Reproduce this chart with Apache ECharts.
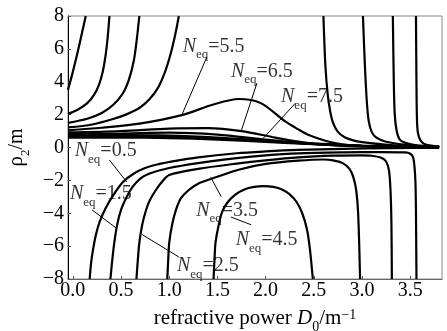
<!DOCTYPE html>
<html>
<head>
<meta charset="utf-8">
<script src="https://cdn.jsdelivr.net/npm/echarts@6/dist/echarts.min.js"></script>
<style>
  html, body { margin: 0; padding: 0; background: #fff; }
  #chart { width: 447px; height: 331px; }
</style>
</head>
<body>
<div id="chart"></div>
<script>
// ticks
var xTicks = [0, 0.5, 1.0, 1.5, 2.0, 2.5, 3.0, 3.5];

// curves [D0, rho2]
// left branches going up to +8
var curveA = [[-0.05, 3.5], [0, 4.6], [0.05, 5.8], [0.1, 7.1], [0.134, 8]];
var curveB = [[-0.05, 2.05], [0.05, 2.3], [0.15, 2.7], [0.22, 3.2], [0.27, 3.8], [0.31, 4.6], [0.34, 5.6], [0.36, 6.6], [0.38, 8]];
var curveC = [[-0.05, 1.5], [0.15, 1.75], [0.3, 2.1], [0.42, 2.6], [0.52, 3.3], [0.58, 4.1], [0.63, 5.2], [0.66, 6.4], [0.69, 8]];
var curveD = [[-0.05, 1.22], [0.2, 1.4], [0.4, 1.7], [0.55, 2.0], [0.69, 2.4], [0.79, 2.9], [0.88, 3.6], [0.95, 4.5], [1.01, 5.6], [1.06, 6.8], [1.1, 8]];
// right branches coming down from +8
var curveAR = [[3.56, 8], [3.565, 4], [3.57, 1.8], [3.58, 0.9], [3.61, 0.4], [3.66, 0.18], [3.8, 0.05]];
var curveBR = [[3.32, 8], [3.33, 4], [3.34, 2.0], [3.36, 1.0], [3.39, 0.5], [3.45, 0.28], [3.55, 0.15], [3.8, 0.05]];
var curveCR = [[3.01, 8], [3.03, 5], [3.05, 2.8], [3.07, 1.6], [3.1, 0.95], [3.15, 0.6], [3.25, 0.35], [3.5, 0.13], [3.8, 0.04]];
var curveDR = [[2.6, 8], [2.62, 5], [2.645, 3.2], [2.67, 2.2], [2.7, 1.5], [2.75, 0.95], [2.82, 0.62], [2.9, 0.45], [3.0, 0.33], [3.3, 0.15], [3.8, 0.04]];
// N_eq = 5.5, 6.5, 7.5 and the bundle
var n55 = [[-0.05, 1.05], [0.3, 1.2], [0.69, 1.45], [1.13, 1.97], [1.45, 2.6], [1.72, 2.95], [1.95, 2.7], [2.2, 1.6], [2.34, 1.1], [2.44, 0.78], [2.68, 0.32], [2.93, 0.12], [3.3, 0.05], [3.8, 0.02]];
var n65 = [[-0.05, 0.92], [0.5, 1.0], [1.0, 1.15], [1.4, 1.18], [1.75, 1.0], [2.1, 0.6], [2.4, 0.3], [2.8, 0.12], [3.3, 0.05], [3.8, 0.02]];
var n75 = [[-0.05, 0.82], [0.5, 0.85], [1.0, 0.9], [1.5, 0.78], [1.96, 0.5], [2.3, 0.3], [2.7, 0.15], [3.2, 0.06], [3.8, 0.02]];
var bundle1 = [[-0.05, 0.74], [0.5, 0.75], [1.0, 0.72], [1.5, 0.6], [2.0, 0.42], [2.5, 0.25], [3.0, 0.12], [3.8, 0.03]];
var bundle2 = [[-0.05, 0.67], [0.5, 0.67], [1.0, 0.64], [1.5, 0.54], [2.0, 0.38], [2.5, 0.22], [3.0, 0.1], [3.8, 0.02]];
var bundle3 = [[-0.05, 0.6], [0.5, 0.6], [1.0, 0.57], [1.5, 0.48], [2.0, 0.34], [2.5, 0.2], [3.0, 0.09], [3.8, 0.02]];
// N_eq = 0.5 ... 4.5 (below zero)
var n05 = [[0.175, -8], [0.19, -7], [0.21, -6.2], [0.24, -5.3], [0.28, -4.5], [0.34, -3.7], [0.42, -2.9], [0.52, -2.1], [0.63, -1.6], [0.75, -1.25], [0.9, -1.0], [1.0, -0.88], [1.3, -0.6], [1.7, -0.35], [2.0, -0.24], [2.34, -0.15], [2.8, -0.08], [3.3, -0.04], [3.8, -0.02]];
var n15 = [[0.39, -8], [0.41, -6.8], [0.43, -5.8], [0.46, -4.7], [0.5, -3.8], [0.56, -3.0], [0.62, -2.4], [0.7, -1.9], [0.79, -1.6], [1.0, -1.25], [1.3, -0.95], [1.7, -0.65], [2.0, -0.48], [2.34, -0.36], [2.8, -0.3], [3.2, -0.28], [3.45, -0.3], [3.5, -0.38], [3.53, -0.6], [3.545, -1.2], [3.555, -2.2], [3.56, -4], [3.565, -8]];
var n25 = [[0.66, -8], [0.675, -6.8], [0.69, -5.8], [0.72, -4.7], [0.76, -3.8], [0.8, -3.2], [0.86, -2.6], [0.93, -2.05], [1.0, -1.67], [1.3, -1.3], [1.7, -0.98], [2.0, -0.78], [2.34, -0.6], [2.7, -0.5], [3.0, -0.48], [3.1, -0.5], [3.2, -0.62], [3.25, -0.85], [3.28, -1.4], [3.295, -2.5], [3.305, -4.5], [3.31, -8]];
var n35 = [[0.98, -8], [0.99, -6.8], [1.0, -5.8], [1.03, -4.7], [1.07, -3.8], [1.12, -3.1], [1.2, -2.6], [1.3, -2.2], [1.44, -1.9], [1.72, -1.35], [2.0, -1.0], [2.34, -0.8], [2.6, -0.73], [2.7, -0.78], [2.8, -0.95], [2.87, -1.3], [2.91, -1.8], [2.94, -2.6], [2.96, -4], [2.98, -8]];
var n45 = [[1.46, -8], [1.47, -6.8], [1.48, -5.8], [1.51, -4.8], [1.55, -3.9], [1.61, -3.3], [1.69, -2.85], [1.78, -2.55], [1.88, -2.4], [1.98, -2.35], [2.08, -2.4], [2.17, -2.55], [2.25, -2.85], [2.32, -3.3], [2.38, -4.0], [2.43, -5.0], [2.46, -6.2], [2.49, -8]];

// labels
var labelNames = ['5.5', '6.5', '7.5', '0.5', '1.5', '2.5', '3.5', '4.5'];
var labelPos = [[1.14, 6.14], [1.64, 4.62], [2.16, 3.08], [0.02, -0.22], [-0.03, -2.82], [1.08, -7.22], [1.28, -3.82], [1.69, -5.62]];
// leader lines
var leaders = [
  [[1.39, 5.5], [1.13, 1.97]],
  [[1.91, 3.92], [1.75, 1.06]],
  [[2.31, 2.7], [1.96, 0.46]],
  [[0.38, -0.76], [0.56, -2.1]],
  [[0.2, -3.8], [0.45, -4.9]],
  [[0.72, -5.3], [1.1, -6.66]],
  [[1.43, -1.8], [1.54, -3.0]],
  [[1.64, -4.23], [1.85, -4.7]]
];

var curves = [curveA, curveB, curveC, curveD, curveAR, curveBR, curveCR, curveDR,
  n55, n65, n75, bundle1, bundle2, bundle3, n05, n15, n25, n35, n45];

var serif = 'Liberation Serif';
var rich = {
  n: { fontFamily: serif, fontStyle: 'italic', fontSize: 20, color: '#000', lineHeight: 20 },
  s: { fontFamily: serif, fontSize: 13, color: '#000', lineHeight: 13, padding: [12, 0, 0, 0], verticalAlign: 'top' },
  v: { fontFamily: serif, fontSize: 20, color: '#000', lineHeight: 20 }
};

var series = [];
curves.forEach(function (c) {
  series.push({
    type: 'line',
    data: c,
    showSymbol: false,
    smooth: 0.3,
    lineStyle: { color: '#000', width: 2.2 },
    silent: true
  });
});
leaders.forEach(function (l) {
  series.push({
    type: 'line',
    data: l,
    showSymbol: false,
    lineStyle: { color: '#000', width: 1 },
    silent: true
  });
});
series.push({
  type: 'scatter',
  symbolSize: 0,
  data: labelPos.map(function (p, i) { return [p[0], p[1], labelNames[i]]; }),
  label: {
    show: true,
    position: 'right',
    distance: 0,
    formatter: function (p) { return '{n|N}{s|eq}{v|=' + p.value[2] + '}'; },
    rich: rich
  },
  silent: true
});

var myChart = echarts.init(document.getElementById('chart'));
var option = {
  animation: false,
  grid: {
    left: 68, right: 5, top: 16, bottom: 52,
    outerBoundsMode: 'none',
    show: true, borderColor: '#888', borderWidth: 1
  },
  xAxis: {
    type: 'value',
    min: -0.05,
    max: 3.83,
    name: '{t|refractive power }{i|D}{sb|0}{t|/m}{sp|−1}',
    nameLocation: 'middle',
    nameGap: 29,
    nameTextStyle: {
      rich: {
        t: { fontFamily: serif, fontSize: 21, color: '#000', lineHeight: 20 },
        i: { fontFamily: serif, fontStyle: 'italic', fontSize: 21, color: '#000', lineHeight: 20 },
        sb: { fontFamily: serif, fontSize: 14, color: '#000', lineHeight: 13, padding: [12, 0, 0, 0], verticalAlign: 'top' },
        sp: { fontFamily: serif, fontSize: 14, color: '#000', lineHeight: 13, padding: [0, 0, 10, 0], verticalAlign: 'top' }
      }
    },
    splitLine: { show: false },
    axisLine: { onZero: false, lineStyle: { color: '#666', width: 1 } },
    axisTick: { inside: true, length: 3, lineStyle: { color: '#555' }, customValues: xTicks },
    axisLabel: {
      customValues: xTicks,
      fontFamily: serif, fontSize: 20, color: '#000', margin: 2,
      formatter: function (v) { return v.toFixed(1); }
    }
  },
  yAxis: {
    type: 'value',
    min: -8,
    max: 8,
    interval: 2,
    name: '{r|ρ}{sb|2}{t|/m}',
    nameLocation: 'middle',
    nameGap: 40,
    nameRotate: 90,
    nameTextStyle: {
      rich: {
        r: { fontFamily: serif, fontSize: 21, color: '#000', lineHeight: 20 },
        t: { fontFamily: serif, fontSize: 20, color: '#000', lineHeight: 20 },
        sb: { fontFamily: serif, fontSize: 13, color: '#000', lineHeight: 13, padding: [12, 0, 0, 0], verticalAlign: 'top' }
      }
    },
    splitLine: { show: false },
    axisLine: { onZero: false, lineStyle: { color: '#000', width: 1 } },
    axisTick: { inside: true, length: 3, lineStyle: { color: '#555' } },
    axisLabel: {
      fontFamily: serif, fontSize: 20, color: '#000', margin: 4,
      formatter: function (v) { return v < 0 ? '−' + (-v) : String(v); }
    }
  },
  series: series
};
myChart.setOption(option);
window.addEventListener('resize', function () {
  myChart.resize();
});
</script>
</body>
</html>
